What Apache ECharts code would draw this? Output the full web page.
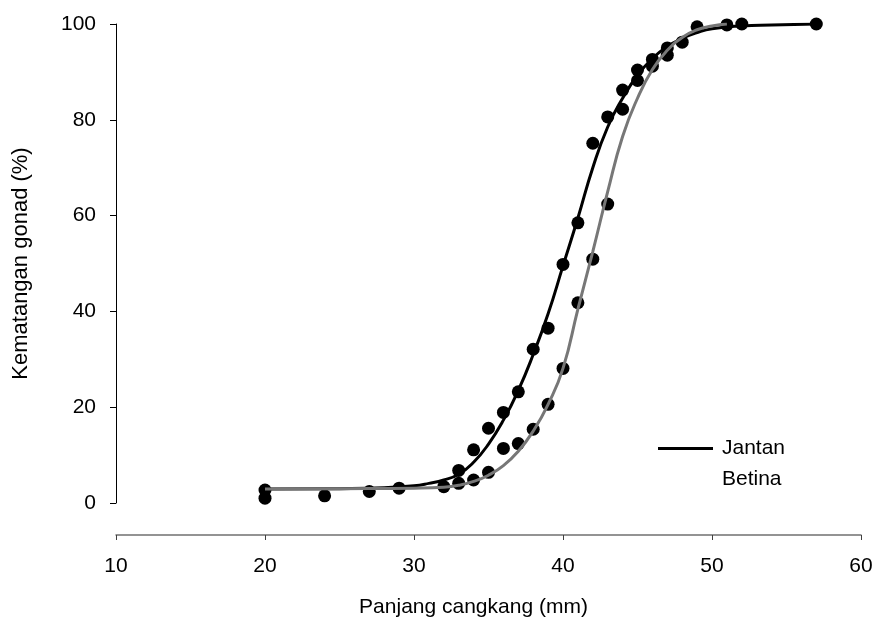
<!DOCTYPE html>
<html>
<head>
<meta charset="utf-8">
<script src="https://cdn.jsdelivr.net/npm/echarts@6/dist/echarts.min.js"></script>
<style>
  html, body { margin: 0; padding: 0; background: #fff; }
  #main { width: 876px; height: 620px; }
</style>
</head>
<body>
<div id="main"></div>
<script>
// titik pengamatan
var jantanX = [20, 24, 27, 29, 33, 34, 35, 36, 37, 38, 39, 40, 41, 42, 43, 44, 45, 46, 47, 48, 49, 52, 57]
var jantanY = [2.7, 1.5, 2.4, 3.1, 6.8, 11.1, 15.6, 18.9, 23.2, 32.1, 36.5, 49.8, 58.5, 75.1, 80.6, 86.2, 90.4, 92.6, 95, 96.2, 99.4, 100, 100]
var betinaX = [20, 32, 33, 34, 35, 36, 37, 38, 39, 40, 41, 42, 43, 44, 45, 46, 47, 51]
var betinaY = [1.0, 3.4, 4.1, 4.8, 6.4, 11.4, 12.4, 15.4, 20.6, 28.1, 41.8, 50.9, 62.4, 82.2, 88.2, 91.2, 93.5, 99.8]

// kurva dugaan (dibaca dari garis pada gambar)
var jantanCurveX = [20, 25, 28, 30, 31, 32, 33, 34, 35, 36, 37, 38, 39, 40, 41, 42, 43, 44, 45, 46, 47, 48, 49, 50, 52, 54, 57]
var jantanCurveY = [2.9, 3.0, 3.2, 3.6, 4.1, 4.8, 6.0, 8.5, 12.3, 17.3, 23.5, 31, 39.5, 49.5, 59.5, 70, 78.5, 84.5, 89.3, 92.8, 95.3, 97, 98.2, 99, 99.6, 99.8, 100]
var betinaCurveX = [20, 25, 30, 32, 33, 34, 35, 36, 37, 38, 39, 40, 41, 42, 43, 44, 45, 46, 47, 48, 49, 50, 51]
var betinaCurveY = [2.9, 3.0, 3.1, 3.3, 3.7, 4.5, 5.8, 7.8, 10.8, 15.0, 20.6, 28.1, 40.5, 52.5, 65, 76.5, 84.5, 90.5, 94.5, 97.2, 98.8, 99.6, 100]

var xTicks = [10, 20, 30, 40, 50, 60]
var yTicks = [0, 20, 40, 60, 80, 100]

var font = 'Liberation Sans, Arial, sans-serif'

function pairs(xs, ys) {
  var out = []
  for (var i = 0; i < xs.length; i++) {
    out.push([xs[i], ys[i]])
  }
  return out
}

function setOption(chart) {
  var options = {
    animation: false,
    textStyle: { fontFamily: font },
    grid: {
      left: 116,
      right: 15,
      top: 24,
      bottom: 117,
      containLabel: false,
      outerBoundsMode: 'none'
    },
    legend: {
      orient: 'vertical',
      left: 653,
      top: 433,
      icon: 'rect',
      itemWidth: 55,
      itemHeight: 3,
      itemGap: 10,
      textStyle: { fontSize: 21, color: '#000', fontFamily: font, padding: [0, 0, 0, 4] },
      data: [
        { name: 'Jantan' },
        { name: 'Betina', itemStyle: { opacity: 0 } }
      ]
    },
    xAxis: {
      type: 'value',
      min: xTicks[0],
      max: xTicks[xTicks.length - 1],
      interval: 10,
      offset: 32,
      name: 'Panjang cangkang (mm)',
      nameLocation: 'middle',
      nameGap: 62,
      nameTextStyle: { fontSize: 21, color: '#000', fontFamily: font, padding: [0, 30, 0, 0] },
      axisLine: { show: true, onZero: false, lineStyle: { color: '#707070', width: 1.5 } },
      axisTick: { show: true, length: 5, lineStyle: { color: '#404040' } },
      axisLabel: { fontSize: 21, color: '#000', margin: 21 },
      splitLine: { show: false }
    },
    yAxis: {
      type: 'value',
      min: yTicks[0],
      max: yTicks[yTicks.length - 1],
      interval: 20,
      name: 'Kematangan gonad (%)',
      nameLocation: 'middle',
      nameGap: 84,
      nameTextStyle: { fontSize: 22, color: '#000', fontFamily: font },
      axisLine: { show: true, onZero: false, lineStyle: { color: '#000', width: 1 } },
      axisTick: { show: true, length: 6, lineStyle: { color: '#000' } },
      axisLabel: { fontSize: 21, color: '#000', margin: 20 },
      splitLine: { show: false }
    },
    series: [
      {
        name: 'Jantan titik',
        type: 'scatter',
        symbolSize: 13,
        itemStyle: { color: '#000', opacity: 1 },
        data: pairs(jantanX, jantanY),
        z: 2
      },
      {
        name: 'Betina titik',
        type: 'scatter',
        symbolSize: 13,
        itemStyle: { color: '#000', opacity: 1 },
        data: pairs(betinaX, betinaY),
        z: 2
      },
      {
        name: 'Jantan',
        type: 'line',
        smooth: 0.5,
        showSymbol: false,
        itemStyle: { color: '#000' },
        lineStyle: { color: '#000', width: 3 },
        data: pairs(jantanCurveX, jantanCurveY),
        z: 3
      },
      {
        name: 'Betina',
        type: 'line',
        smooth: 0.5,
        showSymbol: false,
        itemStyle: { color: '#777' },
        lineStyle: { color: '#777', width: 3 },
        data: pairs(betinaCurveX, betinaCurveY),
        z: 4
      }
    ]
  }
  chart.setOption(options)
}

var chart = echarts.init(document.getElementById('main'), null, { renderer: 'canvas' })
setOption(chart)
</script>
</body>
</html>
